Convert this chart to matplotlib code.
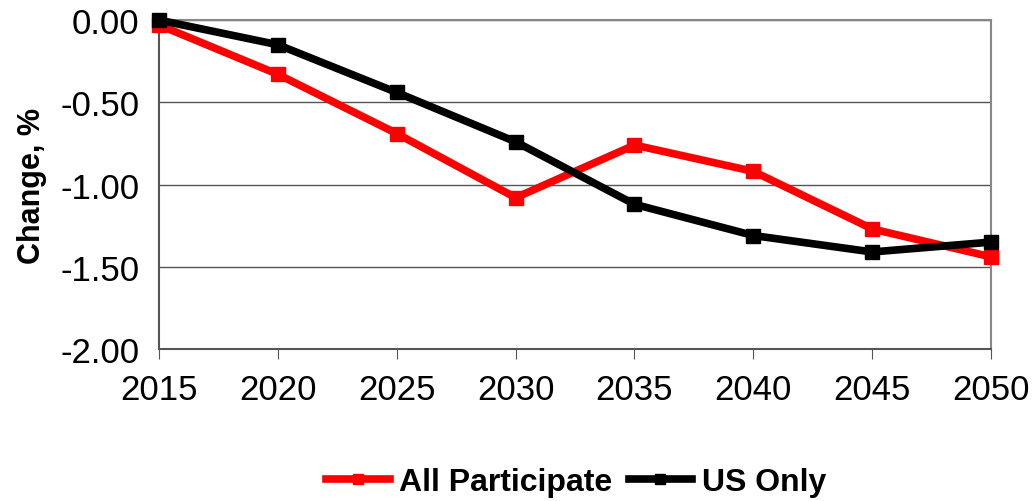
import matplotlib.pyplot as plt

plt.rcParams['font.family'] = ['Liberation Sans', 'DejaVu Sans']

# Years
years = [2015, 2020, 2025, 2030, 2035, 2040, 2045, 2050]

# Change, %
all_participate = [-0.03, -0.33, -0.69, -1.08, -0.76, -0.92, -1.27, -1.44]
us_only = [0.00, -0.15, -0.44, -0.74, -1.12, -1.31, -1.41, -1.35]

yticks = [0.0, -0.5, -1.0, -1.5, -2.0]

fig = plt.figure(figsize=(10.36, 5.02), dpi=100)
ax = fig.add_axes([0.1535, 0.3028, 0.8031, 0.6552])

ax.plot(years, all_participate, marker='s', linestyle='-', color='#ff0000',
        linewidth=5.5, markersize=10, label='All Participate', clip_on=False, zorder=3)
ax.plot(years, us_only, marker='s', linestyle='-', color='black',
        linewidth=5.5, markersize=10, label='US Only', clip_on=False, zorder=4)

ax.set_xlim(2015, 2050)
ax.set_ylim(-2.0, 0.0)
ax.set_xticks(years)
ax.set_yticks(yticks)
ax.set_yticklabels(['%.2f' % v for v in yticks])
ax.tick_params(axis='both', labelsize=25, length=0, pad=14)
ax.tick_params(axis='x', length=7, direction='out', color='#555555', pad=10)

ax.yaxis.grid(True, color='#555555', linewidth=1)
ax.set_axisbelow(True)
for side in ['top', 'right']:
    ax.spines[side].set_color('#888888')
    ax.spines[side].set_linewidth(1.5)
for side in ['left', 'bottom']:
    ax.spines[side].set_color('#555555')
    ax.spines[side].set_linewidth(1.5)

ax.set_ylabel('Change, %', fontsize=22, fontweight='bold', labelpad=10)

leg = fig.legend(loc='lower center', bbox_to_anchor=(0.556, -0.05), ncol=2,
                 frameon=False, prop={'size': 23, 'weight': 'bold'},
                 handlelength=2.0, handletextpad=0.3, columnspacing=0.5,
                 markerscale=0.75)

fig.savefig('out.png', dpi=100)
